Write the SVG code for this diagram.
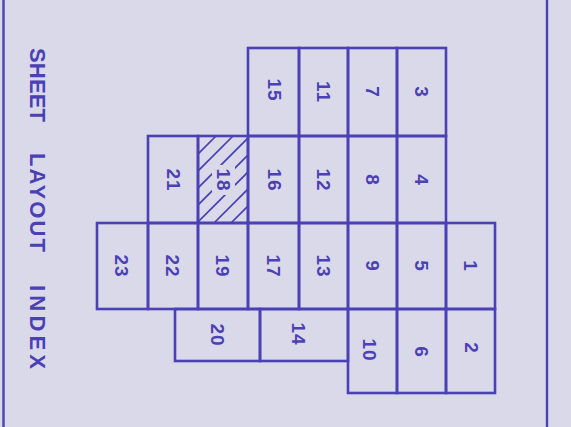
<svg xmlns="http://www.w3.org/2000/svg" width="571" height="427" viewBox="0 0 571 427">
<defs>
<style>
.bg{fill:#d9d9ea}
.c{fill:none;stroke:#4b40b4;stroke-width:2.6;stroke-linejoin:miter}
.h{stroke:#4b40b4;stroke-width:1.6}
.n{font-family:"Liberation Sans","Arial",sans-serif;font-weight:bold;font-size:19px;fill:#4b40b4;text-anchor:middle;dominant-baseline:central;letter-spacing:1px}
.t{font-family:"Liberation Sans","Arial",sans-serif;font-weight:bold;font-size:22px;fill:#4b40b4;dominant-baseline:central}
.b{stroke:#4b40b4;stroke-width:2.4}
</style>
<clipPath id="clip18"><rect x="198" y="136" width="50" height="87"/></clipPath>
</defs>
<rect class="bg" x="0" y="0" width="571" height="427"/>
<g id="frame">
<line class="b" x1="3.5" y1="0" x2="3.5" y2="427"/>
<line class="b" x1="547" y1="0" x2="547" y2="427"/>
</g>
<g id="title">
<text class="t" transform="translate(37,48) rotate(90)" textLength="74" lengthAdjust="spacing">SHEET</text>
<text class="t" transform="translate(37,153) rotate(90)" textLength="99" lengthAdjust="spacing">LAYOUT</text>
<text class="t" transform="translate(37,285) rotate(90)" textLength="84" lengthAdjust="spacing">INDEX</text>
</g>
<g id="sheets">
<g id="s15"><rect class="c" x="248" y="48" width="51" height="88"/><text class="n" transform="translate(274,90) rotate(90)">15</text></g>
<g id="s11"><rect class="c" x="299" y="48" width="49" height="88"/><text class="n" transform="translate(323,92) rotate(90)">11</text></g>
<g id="s7"><rect class="c" x="348" y="48" width="49" height="88"/><text class="n" transform="translate(372,92) rotate(90)">7</text></g>
<g id="s3"><rect class="c" x="397" y="48" width="49" height="88"/><text class="n" transform="translate(421,92) rotate(90)">3</text></g>

<g id="s21"><rect class="c" x="148" y="136" width="50" height="87"/><text class="n" transform="translate(173,180) rotate(90)">21</text></g>
<g id="s18">
<g clip-path="url(#clip18)">
<line class="h" x1="150" y1="202" x2="250" y2="102"/>
<line class="h" x1="150" y1="219" x2="250" y2="119"/>
<line class="h" x1="150" y1="236" x2="250" y2="136"/>
<line class="h" x1="150" y1="253" x2="250" y2="153"/>
<line class="h" x1="150" y1="270" x2="250" y2="170"/>
<line class="h" x1="150" y1="287" x2="250" y2="187"/>
<line class="h" x1="150" y1="304" x2="250" y2="204"/>
<line class="h" x1="150" y1="321" x2="250" y2="221"/>
</g>
<rect class="bg" x="212" y="165" width="23" height="30"/>
<rect class="c" x="198" y="136" width="50" height="87"/>
<text class="n" transform="translate(223,180) rotate(90)">18</text>
</g>
<g id="s16"><rect class="c" x="248" y="136" width="51" height="87"/><text class="n" transform="translate(274,180) rotate(90)">16</text></g>
<g id="s12"><rect class="c" x="299" y="136" width="49" height="87"/><text class="n" transform="translate(323,180) rotate(90)">12</text></g>
<g id="s8"><rect class="c" x="348" y="136" width="49" height="87"/><text class="n" transform="translate(372,180) rotate(90)">8</text></g>
<g id="s4"><rect class="c" x="397" y="136" width="49" height="87"/><text class="n" transform="translate(421,180) rotate(90)">4</text></g>

<g id="s23"><rect class="c" x="97" y="223" width="51" height="86"/><text class="n" transform="translate(121,266) rotate(90)">23</text></g>
<g id="s22"><rect class="c" x="148" y="223" width="50" height="86"/><text class="n" transform="translate(172,266) rotate(90)">22</text></g>
<g id="s19"><rect class="c" x="198" y="223" width="50" height="86"/><text class="n" transform="translate(222,266) rotate(90)">19</text></g>
<g id="s17"><rect class="c" x="248" y="223" width="51" height="86"/><text class="n" transform="translate(273,266) rotate(90)">17</text></g>
<g id="s13"><rect class="c" x="299" y="223" width="49" height="86"/><text class="n" transform="translate(323,266) rotate(90)">13</text></g>
<g id="s9"><rect class="c" x="348" y="223" width="49" height="86"/><text class="n" transform="translate(372,266) rotate(90)">9</text></g>
<g id="s5"><rect class="c" x="397" y="223" width="49" height="86"/><text class="n" transform="translate(421,266) rotate(90)">5</text></g>
<g id="s1"><rect class="c" x="446" y="223" width="49" height="86"/><text class="n" transform="translate(470,266) rotate(90)">1</text></g>

<g id="s20"><rect class="c" x="175" y="309" width="85" height="52"/><text class="n" transform="translate(217,335) rotate(90)">20</text></g>
<g id="s14"><rect class="c" x="260" y="309" width="88" height="52"/><text class="n" transform="translate(298,334) rotate(90)">14</text></g>
<g id="s10"><rect class="c" x="348" y="309" width="49" height="84"/><text class="n" transform="translate(369,350) rotate(90)">10</text></g>
<g id="s6"><rect class="c" x="397" y="309" width="49" height="84"/><text class="n" transform="translate(421,352) rotate(90)">6</text></g>
<g id="s2"><rect class="c" x="446" y="309" width="49" height="84"/><text class="n" transform="translate(471,348) rotate(90)">2</text></g>
</g>
</svg>
